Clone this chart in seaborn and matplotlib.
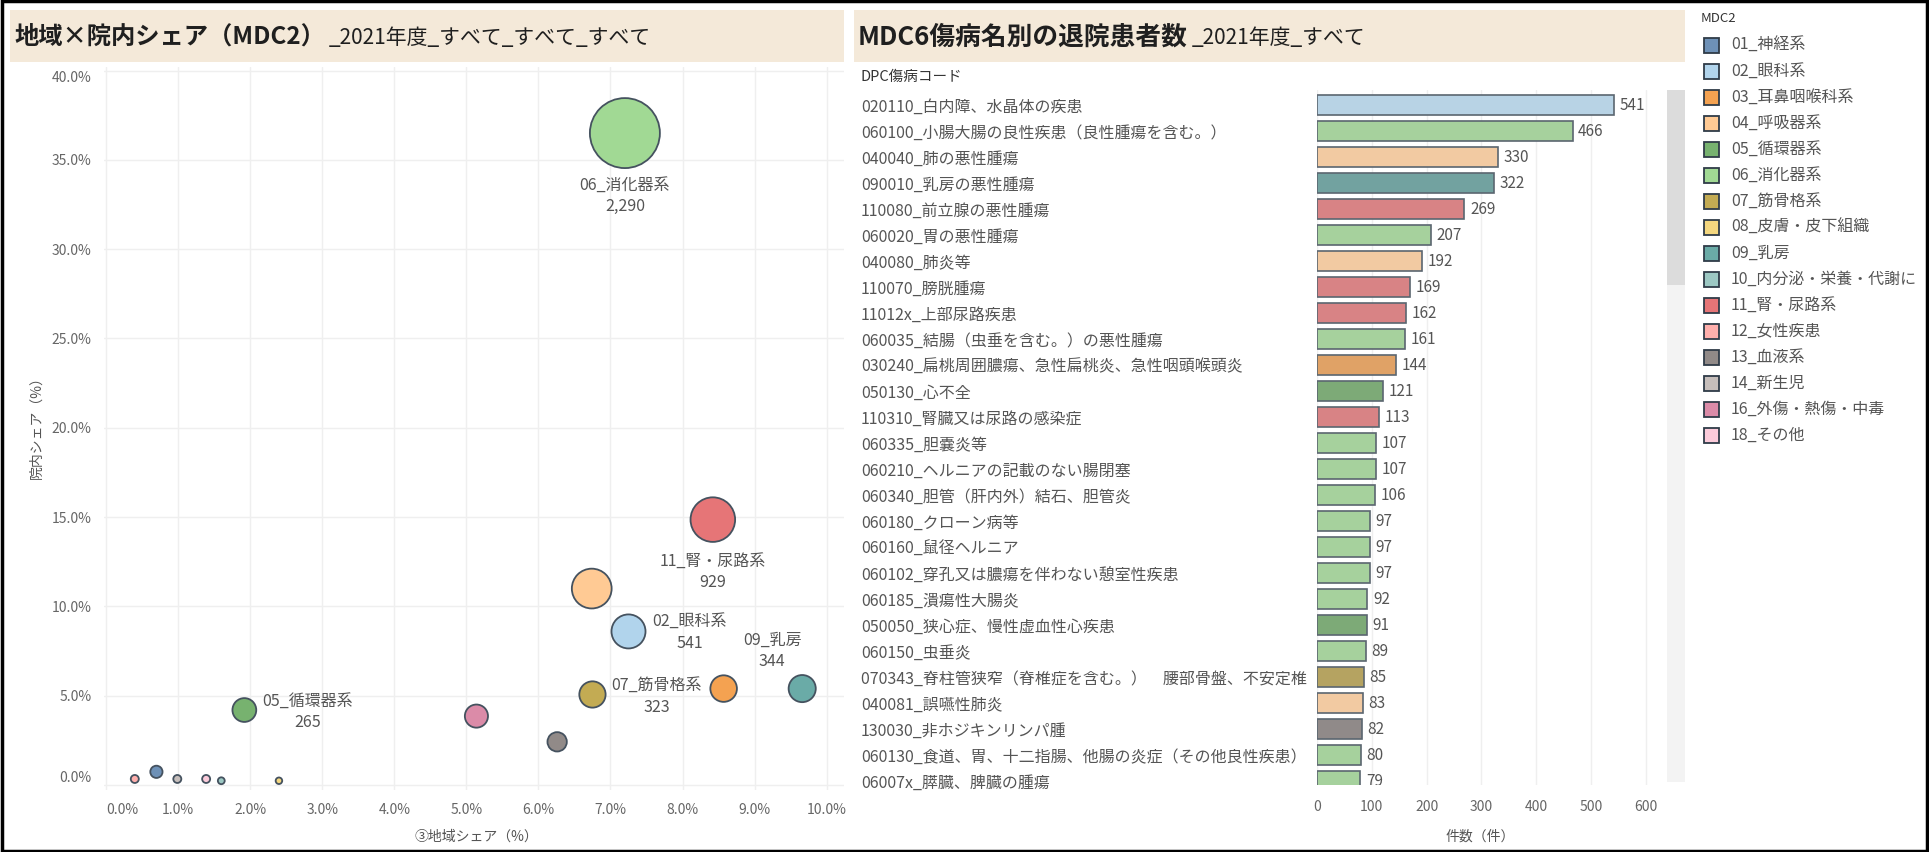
import numpy as np
import pandas as pd
import matplotlib
matplotlib.use('Agg')
import matplotlib.pyplot as plt
import seaborn as sns
from matplotlib.patches import Rectangle
from matplotlib.colors import to_rgb

sns.set_theme(style='white')
plt.rcParams['font.family'] = ['Noto Sans CJK JP', 'DejaVu Sans']

# ---------------- data ----------------
mdc2_names = ['01_神経系', '02_眼科系', '03_耳鼻咽喉科系', '04_呼吸器系', '05_循環器系',
              '06_消化器系', '07_筋骨格系', '08_皮膚・皮下組織', '09_乳房',
              '10_内分泌・栄養・代謝に', '11_腎・尿路系', '12_女性疾患', '13_血液系',
              '14_新生児', '16_外傷・熱傷・中毒', '18_その他']
mdc2_colors = ['#4E79A7', '#A0CBE8', '#F28E2B', '#FFBE7D', '#59A14F', '#8CD17D',
               '#B6992D', '#F1CE63', '#499894', '#86BCB6', '#E15759', '#FF9D9A',
               '#79706E', '#BAB0AC', '#D37295', '#FABFD2']
region_share = [0.70, 7.25, 8.57, 6.74, 1.92, 7.20, 6.75, 2.40, 9.66, 1.60,
                8.42, 0.40, 6.26, 0.99, 5.14, 1.39]
hospital_share = [0.74, 8.60, 5.40, 11.00, 4.20, 36.50, 5.07, 0.24, 5.40, 0.24,
                  14.86, 0.34, 2.42, 0.34, 3.86, 0.34]
patient_counts = [70, 541, 330, 740, 265, 2290, 323, 20, 344, 22,
                  929, 30, 175, 30, 250, 30]
labeled_groups = ['06_消化器系', '11_腎・尿路系', '02_眼科系', '09_乳房', '07_筋骨格系', '05_循環器系']

dpc_labels = ['020110_白内障、水晶体の疾患',
              '060100_小腸大腸の良性疾患（良性腫瘍を含む。）',
              '040040_肺の悪性腫瘍',
              '090010_乳房の悪性腫瘍',
              '110080_前立腺の悪性腫瘍',
              '060020_胃の悪性腫瘍',
              '040080_肺炎等',
              '110070_膀胱腫瘍',
              '11012x_上部尿路疾患',
              '060035_結腸（虫垂を含む。）の悪性腫瘍',
              '030240_扁桃周囲膿瘍、急性扁桃炎、急性咽頭喉頭炎',
              '050130_心不全',
              '110310_腎臓又は尿路の感染症',
              '060335_胆嚢炎等',
              '060210_ヘルニアの記載のない腸閉塞',
              '060340_胆管（肝内外）結石、胆管炎',
              '060180_クローン病等',
              '060160_鼠径ヘルニア',
              '060102_穿孔又は膿瘍を伴わない憩室性疾患',
              '060185_潰瘍性大腸炎',
              '050050_狭心症、慢性虚血性心疾患',
              '060150_虫垂炎',
              '070343_脊柱管狭窄（脊椎症を含む。）　腰部骨盤、不安定椎',
              '040081_誤嚥性肺炎',
              '130030_非ホジキンリンパ腫',
              '060130_食道、胃、十二指腸、他腸の炎症（その他良性疾患）',
              '06007x_膵臓、脾臓の腫瘍']
dpc_counts = [541, 466, 330, 322, 269, 207, 192, 169, 162, 161, 144, 121, 113, 107,
              107, 106, 97, 97, 97, 92, 91, 89, 85, 83, 82, 80, 79]

scatter_xticks = [0, 1, 2, 3, 4, 5, 6, 7, 8, 9, 10]
scatter_yticks = [0, 5, 10, 15, 20, 25, 30, 35, 40]
bar_xticks = [0, 100, 200, 300, 400, 500, 600]

# ---------------- helpers ----------------
W, H = 1929, 852
fig = plt.figure(figsize=(W / 100, H / 100), dpi=100)
fig.patch.set_facecolor('white')


def fx(px):
    return px / W


def fy(py):
    return 1 - py / H


def blend(c, a=0.82):
    r, g, b = to_rgb(c)
    return (a * r + (1 - a), a * g + (1 - a), a * b + (1 - a))


pal = {n: blend(c) for n, c in zip(mdc2_names, mdc2_colors)}
TXT = '#555555'
EDGE = '#45525f'

# header bands
for x0, x1 in [(10, 844), (854, 1685)]:
    fig.add_artist(Rectangle((fx(x0), fy(62)), (x1 - x0) / W, 52 / H,
                             transform=fig.transFigure, facecolor='#F4E9D9',
                             edgecolor='none', zorder=0))

renderer = fig.canvas.get_renderer()


def two_part_title(x, y, main, sub, main_size, sub_size):
    t1 = fig.text(fx(x), fy(y), main, fontsize=main_size, fontweight='bold', color='#1f1f1f',
                  ha='left', va='center')
    bb = t1.get_window_extent(renderer=renderer)
    fig.text((bb.x1 + 4) / W, fy(y + 1), sub, fontsize=sub_size, color='#1f1f1f',
             ha='left', va='center')


two_part_title(14, 37, '地域×院内シェア（MDC2）', '_2021年度_すべて_すべて_すべて', 17.5, 15)
two_part_title(858, 37, 'MDC6傷病名別の退院患者数', '_2021年度_すべて', 18.5, 15)

# ---------------- scatter (bubble) ----------------
df_s = pd.DataFrame({'mdc2': mdc2_names, 'x': region_share, 'y': hospital_share,
                     'n': patient_counts})
ax1 = fig.add_axes([fx(103.8), fy(790.4), (844 - 103.8) / W, (790.4 - 67) / H])
sns.scatterplot(data=df_s.sort_values('n', ascending=False), x='x', y='y',
                hue='mdc2', palette=pal, size='n', sizes=(0, 2540), size_norm=(0, 2290),
                edgecolor=EDGE, linewidth=1.3, legend=False, ax=ax1, zorder=3)
ax1.set_xlim(-0.03, 10.24)
ax1.set_ylim(-0.3, 40.2)
ax1.set_xticks(scatter_xticks)
ax1.set_yticks(scatter_yticks)
xl = ax1.set_xticklabels([f'{v:.1f}%' for v in scatter_xticks])
yl = ax1.set_yticklabels([f'{v:.1f}%' for v in scatter_yticks])
xl[0].set_ha('left')
yl[0].set_va('bottom')
yl[-1].set_va('top')
ax1.grid(True, color='#EFEFEF', lw=1)
ax1.set_axisbelow(True)
for s in ax1.spines.values():
    s.set_visible(False)
ax1.tick_params(axis='both', length=0, labelsize=10, labelcolor='#666666')
ax1.tick_params(axis='x', pad=9)
ax1.tick_params(axis='y', pad=9)
ax1.set_xlabel('')
ax1.set_ylabel('')
fig.text(fx(476), fy(837), '③地域シェア（%）', fontsize=10, color=TXT, ha='center', va='center')
fig.text(fx(37), fy(424), '院内シェア（%）', fontsize=10, color=TXT, ha='center', va='center',
         rotation=90)

label_offsets = {'06_消化器系': (0, -63), '11_腎・尿路系': (0, -52), '02_眼科系': (61, -1),
                 '09_乳房': (-30, 38), '07_筋骨格系': (64, -2), '05_循環器系': (63, -2)}
for _, r in df_s.iterrows():
    if r['mdc2'] in labeled_groups:
        dx, dy = label_offsets[r['mdc2']]
        ax1.annotate(f"{r['mdc2']}\n{int(r['n']):,}", (r['x'], r['y']),
                     xytext=(dx * 0.72, dy * 0.72), textcoords='offset points',
                     ha='center', va='center', fontsize=11.5, color=TXT,
                     linespacing=1.35, zorder=5)

# ---------------- bar chart ----------------
prefix_map = {n[:2]: n for n in mdc2_names}
df_b = pd.DataFrame({'label': dpc_labels, 'count': dpc_counts})
df_b['mdc2'] = df_b['label'].str[:2].map(prefix_map)

ax2 = fig.add_axes([fx(1317), fy(785), (1659.7 - 1317) / W, (785 - 90) / H])
sns.barplot(data=df_b, x='count', y='label', hue='mdc2', palette=pal, dodge=False,
            order=dpc_labels, width=0.77, edgecolor='#5b6670', linewidth=1.2,
            legend=False, ax=ax2, orient='h')
ax2.set_xlim(0, 625)
ax2.set_ylim(26.15, -0.58)
ax2.set_xticks(bar_xticks)
ax2.set_xticklabels([str(v) for v in bar_xticks])
ax2.set_yticks(range(len(dpc_labels)))
ax2.set_yticklabels(dpc_labels, ha='left')
ax2.tick_params(axis='y', length=0, pad=(1317 - 861) * 0.72, labelsize=11.5,
                labelcolor=TXT)
ax2.tick_params(axis='x', length=0, pad=11, labelsize=10, labelcolor='#666666')
ax2.grid(True, axis='x', color='#EFEFEF', lw=1)
ax2.grid(False, axis='y')
ax2.set_axisbelow(True)
for s in ax2.spines.values():
    s.set_visible(False)
ax2.set_xlabel('')
ax2.set_ylabel('')
for cont in ax2.containers:
    labs = [f'{int(round(b.get_width()))}' if np.isfinite(b.get_width()) and b.get_width() > 0
            else '' for b in cont]
    ax2.bar_label(cont, labels=labs, padding=4, fontsize=11, color=TXT, clip_on=True)

fig.text(fx(861), fy(77), 'DPC傷病コード', fontsize=10.5, color='#333333', ha='left', va='center')
fig.text(fx(1480), fy(837), '件数（件）', fontsize=10, color=TXT, ha='center', va='center')

# scrollbar
fig.add_artist(Rectangle((fx(1667), fy(782)), 18 / W, (782 - 90) / H,
                         transform=fig.transFigure, facecolor='#F3F3F3', edgecolor='none'))
fig.add_artist(Rectangle((fx(1667), fy(285)), 18 / W, (285 - 90) / H,
                         transform=fig.transFigure, facecolor='#DCDCDC', edgecolor='none'))

# ---------------- legend ----------------
fig.text(fx(1701), fy(19), 'MDC2', fontsize=9.5, color='#333333', ha='left', va='center')
for i, name in enumerate(mdc2_names):
    yc = 45.5 + 26 * i
    fig.add_artist(Rectangle((fx(1704), fy(yc + 7.5)), 15 / W, 15 / H,
                             transform=fig.transFigure, facecolor=pal[name],
                             edgecolor='#2f3b48', lw=1.3))
    fig.text(fx(1731), fy(yc), name, fontsize=11.5, color=TXT, ha='left', va='center')

# outer border
fig.add_artist(Rectangle((0.001, 0.001), 0.998, 0.998, transform=fig.transFigure,
                         fill=False, edgecolor='black', lw=2.5))

fig.savefig('out.png', dpi=100, facecolor='white')
